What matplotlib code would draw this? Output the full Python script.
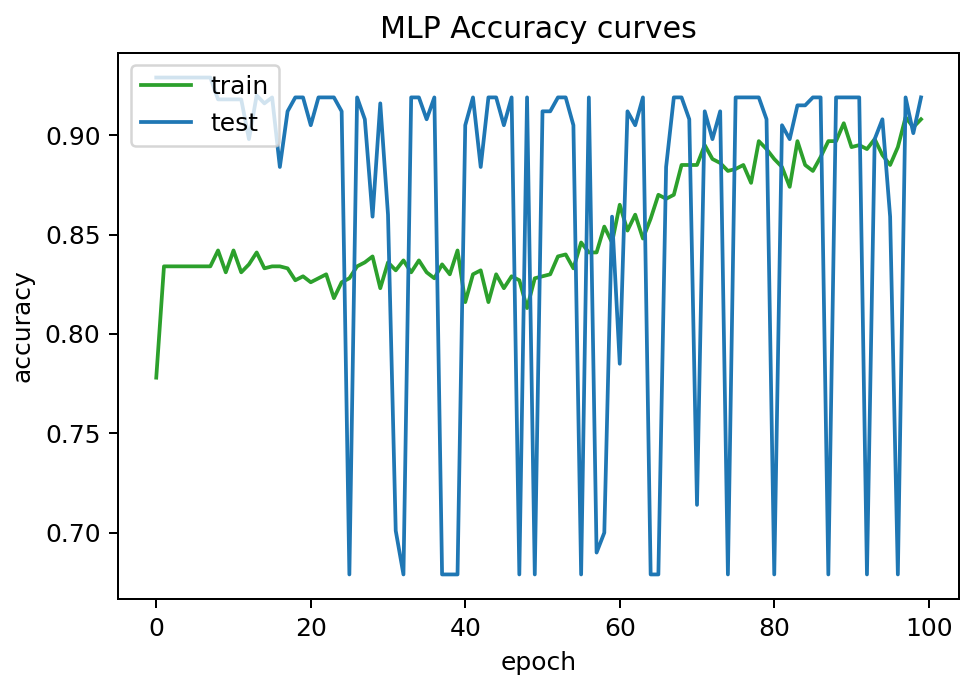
import numpy as np
import matplotlib
matplotlib.use("Agg")
import matplotlib.pyplot as plt

# accuracy per epoch
train_acc = [0.778, 0.834, 0.834, 0.834, 0.834, 0.834, 0.834, 0.834, 0.842, 0.831,
             0.842, 0.831, 0.835, 0.841, 0.833, 0.834, 0.834, 0.833, 0.827, 0.829,
             0.826, 0.828, 0.830, 0.818, 0.826, 0.828, 0.834, 0.836, 0.839, 0.823,
             0.836, 0.832, 0.837, 0.831, 0.837, 0.831, 0.828, 0.835, 0.830, 0.842,
             0.816, 0.830, 0.832, 0.816, 0.830, 0.823, 0.829, 0.827, 0.813, 0.828,
             0.829, 0.830, 0.839, 0.840, 0.833, 0.846, 0.841, 0.841, 0.854, 0.846,
             0.865, 0.852, 0.860, 0.848, 0.858, 0.870, 0.868, 0.870, 0.885, 0.885,
             0.885, 0.895, 0.888, 0.886, 0.882, 0.883, 0.885, 0.876, 0.897, 0.893,
             0.888, 0.884, 0.874, 0.897, 0.885, 0.882, 0.889, 0.897, 0.897, 0.906,
             0.894, 0.895, 0.893, 0.898, 0.890, 0.885, 0.894, 0.909, 0.904, 0.908]

test_acc = [0.929, 0.929, 0.929, 0.929, 0.929, 0.929, 0.929, 0.929, 0.918, 0.918,
            0.918, 0.918, 0.898, 0.920, 0.916, 0.919, 0.884, 0.912, 0.919, 0.919,
            0.905, 0.919, 0.919, 0.919, 0.912, 0.679, 0.919, 0.908, 0.859, 0.916,
            0.860, 0.701, 0.679, 0.919, 0.919, 0.908, 0.919, 0.679, 0.679, 0.679,
            0.905, 0.919, 0.884, 0.919, 0.919, 0.905, 0.919, 0.679, 0.919, 0.679,
            0.912, 0.912, 0.919, 0.919, 0.905, 0.679, 0.919, 0.690, 0.700, 0.859,
            0.785, 0.912, 0.905, 0.919, 0.679, 0.679, 0.884, 0.919, 0.919, 0.908,
            0.714, 0.912, 0.898, 0.912, 0.679, 0.919, 0.919, 0.919, 0.919, 0.908,
            0.679, 0.905, 0.898, 0.915, 0.915, 0.919, 0.919, 0.679, 0.919, 0.919,
            0.919, 0.919, 0.679, 0.898, 0.908, 0.859, 0.679, 0.919, 0.901, 0.919]

epochs = np.arange(len(train_acc))

fig = plt.figure(figsize=(961 / 180, 678 / 180), dpi=180)
ax = fig.add_axes([0.1228, 0.1161, 0.8754, 0.8062])

ax.plot(epochs, train_acc, color='#2ca02c', label='train')
ax.plot(epochs, test_acc, color='#1f77b4', label='test')

ax.set_title('MLP Accuracy curves')
ax.set_xlabel('epoch')
ax.set_ylabel('accuracy')
ax.legend(loc='upper left')

fig.savefig('out.png', dpi=180)
